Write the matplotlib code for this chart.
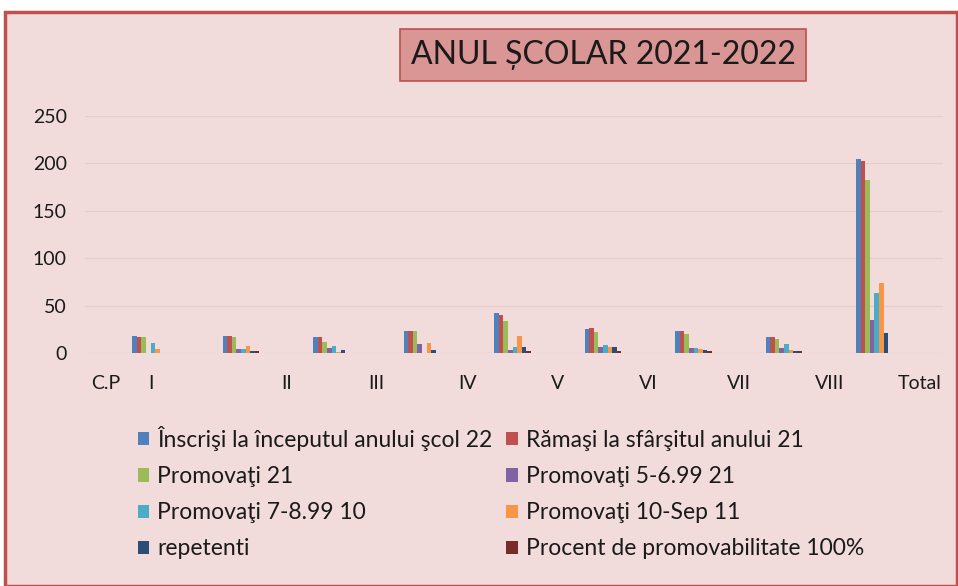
import matplotlib
matplotlib.use("Agg")
import matplotlib.pyplot as plt
from matplotlib.patches import Rectangle, Patch
import numpy as np

plt.rcParams['font.family'] = ['Lato', 'DejaVu Sans']

title = "ANUL ȘCOLAR 2021-2022"
tick_labels = ["C.P", "I", "II", "III", "IV", "V", "VI", "VII", "VIII", "Total"]
tick_pos = [-0.5, 0, 1.5, 2.5, 3.5, 4.5, 5.5, 6.5, 7.5, 8.5]

series_names = [
    "Înscrişi la începutul anului şcol 22",
    "Rămaşi la sfârşitul anului 21",
    "Promovaţi 21",
    "Promovaţi 5-6.99 21",
    "Promovaţi 7-8.99 10",
    "Promovaţi 10-Sep 11",
    "repetenti",
    "Procent de promovabilitate 100%",
]
colors = ["#4F81BD", "#C0504D", "#9BBB59", "#8064A2",
          "#4BACC6", "#F79646", "#2C4D75", "#772C2A"]

# values per cluster (9 clusters drawn)
inscrisi   = [18, 18, 17, 23, 42, 25, 23, 17, 205]
ramasi     = [17, 18, 17, 23, 40, 26, 23, 17, 203]
promovati  = [17, 17, 12, 23, 34, 22, 20, 15, 182]
prom_5_6   = [0, 4, 5, 10, 3, 6, 5, 5, 35]
prom_7_8   = [11, 4, 7, 0, 6, 8, 5, 10, 63]
prom_10    = [4, 7, 1, 11, 18, 6, 4, 3, 74]
repetenti  = [0, 2, 3, 3, 6, 6, 3, 2, 21]
procent    = [0, 2, 0, 0, 2, 2, 2, 2, 0]

data = [inscrisi, ramasi, promovati, prom_5_6, prom_7_8, prom_10, repetenti, procent]

W, H = 958, 586
fig = plt.figure(figsize=(W / 100, H / 100), dpi=100)
fig.patch.set_facecolor("white")

bg = "#F2DCDB"
fig.patches.append(Rectangle((5 / W, 0), (W - 6) / W, (H - 12) / H,
                             transform=fig.transFigure, facecolor=bg,
                             edgecolor="#C0504D", linewidth=2.5, zorder=-10))

ax = fig.add_axes([85 / W, (H - 353) / H, 858 / W, 237 / H])
ax.set_zorder(1)
ax.patch.set_alpha(0)
for s in ax.spines.values():
    s.set_visible(False)

x = np.arange(len(inscrisi))
bw = 0.051
for i, (vals, c) in enumerate(zip(data, colors)):
    ax.bar(x + (i - 3.5) * bw, vals, width=bw, color=c, edgecolor="none",
           label=series_names[i], zorder=3)

ax.set_ylim(0, 250)
ax.set_yticks([0, 50, 100, 150, 200, 250])
ax.set_xlim(-0.724, 8.757)
ax.set_xticks(tick_pos)
ax.set_xticklabels(tick_labels)
ax.grid(axis="y", color="#E8CDCD", linewidth=1, zorder=0)
ax.tick_params(axis="both", length=0, labelsize=14, colors="#1a1a1a")
ax.tick_params(axis="x", pad=16)
ax.tick_params(axis="y", pad=13)

fig.text(603 / W, 1 - 55 / H, title, ha="center", va="center",
         fontsize=23, color="#1a1a1a",
         bbox=dict(boxstyle="square,pad=0.33", facecolor="#D99694",
                   edgecolor="#C0504D", linewidth=1.2), zorder=5)

handles = [Patch(facecolor=c, edgecolor="none") for c in colors]
order = [0, 2, 4, 6, 1, 3, 5, 7]
leg = fig.legend([handles[i] for i in order], [series_names[i] for i in order],
                 ncol=2, loc="upper left", bbox_to_anchor=(138 / W, 1 - 426 / H),
                 frameon=False, fontsize=16.5, handlelength=0.5, handleheight=0.5,
                 handletextpad=0.35, columnspacing=0.6, labelspacing=0.66,
                 borderaxespad=0, borderpad=0)
for t in leg.get_texts():
    t.set_color("#1a1a1a")

fig.savefig("out.png", dpi=100, facecolor=fig.get_facecolor())
